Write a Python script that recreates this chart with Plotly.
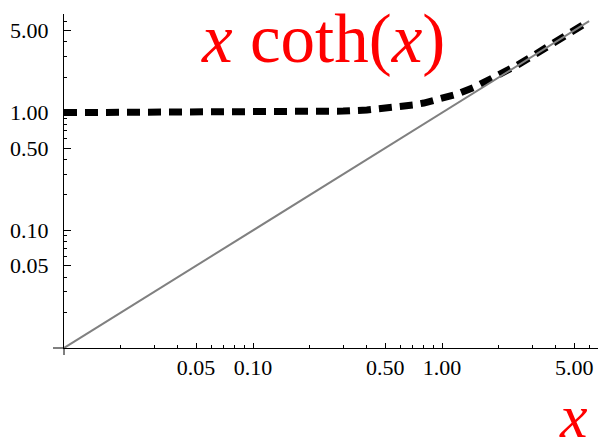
import plotly.graph_objects as go

# data
x_line = [0.01, 6.0]
y_line = [0.01, 6.0]

x_curve = [0.01, 0.05, 0.1, 0.2, 0.3, 0.4, 0.5, 0.6, 0.7, 0.8, 1.0, 1.2, 1.5, 2.0, 2.5, 3.0, 4.0, 5.0, 6.0]
y_curve = [1.000, 1.001, 1.003, 1.013, 1.030, 1.053, 1.082, 1.117, 1.159, 1.206, 1.313, 1.435, 1.658, 2.075, 2.534, 3.015, 4.003, 5.000, 6.000]

tick_vals = [0.05, 0.10, 0.50, 1.00, 5.00]
tick_text = ["0.05", "0.10", "0.50", "1.00", "5.00"]

SERIF = "Liberation Serif, Times New Roman, serif"

fig = go.Figure()
fig.add_trace(go.Scatter(x=x_curve, y=y_curve, mode="lines",
                         line=dict(color="black", width=7, dash="13px,8px"),
                         showlegend=False))
fig.add_trace(go.Scatter(x=x_line, y=y_line, mode="lines",
                         line=dict(color="#808080", width=2),
                         showlegend=False))

tick_font = dict(family=SERIF, size=22, color="black")

fig.update_xaxes(type="log", range=[-2, 0.825], showgrid=False, zeroline=False,
                 showline=True, linecolor="black", linewidth=1,
                 ticks="inside", ticklen=5, tickcolor="black", tickwidth=1,
                 tickvals=tick_vals, ticktext=tick_text, tickfont=tick_font,
                 ticklabelstandoff=0,
                 minor=dict(ticks="inside", ticklen=3, tickcolor="black", dtick="D1", showgrid=False))
fig.update_yaxes(type="log", range=[-2, 0.838], showgrid=False, zeroline=False,
                 showline=True, linecolor="black", linewidth=1,
                 ticks="inside", ticklen=7, tickcolor="black", tickwidth=1,
                 tickvals=tick_vals, ticktext=tick_text, tickfont=tick_font,
                 ticklabelstandoff=10,
                 minor=dict(ticks="inside", ticklen=3, tickcolor="black", dtick="D1", showgrid=False))

fig.add_shape(type="line", xref="paper", yref="paper", xsizemode="pixel", xanchor=0,
              x0=-11, x1=0, y0=0, y1=0, line=dict(color="black", width=1))
fig.add_shape(type="line", xref="paper", yref="paper", ysizemode="pixel", yanchor=0,
              x0=0, x1=0, y0=-7, y1=0, line=dict(color="black", width=1))

fig.add_annotation(text="<i>x</i> coth(<i>x</i>)", xref="paper", yref="paper",
                   x=0.485, y=0.925, xanchor="center", yanchor="middle", showarrow=False,
                   font=dict(family=SERIF, size=69, color="red"))
fig.add_annotation(text="<i>x</i>", xref="paper", yref="paper",
                   x=(557 - 64) / 534, y=-0.205, xanchor="left", yanchor="middle", showarrow=False,
                   font=dict(family=SERIF, size=62, color="red"))

fig.update_layout(width=599, height=448, margin=dict(l=64, r=1, t=14, b=100),
                  plot_bgcolor="white", paper_bgcolor="white")

fig.write_html("out.html")
